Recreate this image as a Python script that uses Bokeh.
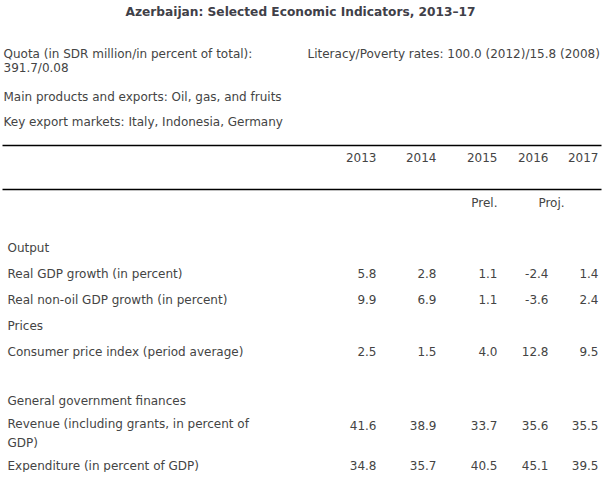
from bokeh.plotting import figure
from bokeh.models import ColumnDataSource, Range1d
from bokeh.core.properties import value
from bokeh.embed import file_html
from bokeh.resources import INLINE

title = "Azerbaijan: Selected Economic Indicators, 2013\u201317"
quota_label = "Quota (in SDR million/in percent of total):"
quota_value = "391.7/0.08"
literacy = "Literacy/Poverty rates: 100.0 (2012)/15.8 (2008)"
products = "Main products and exports: Oil, gas, and fruits"
markets = "Key export markets: Italy, Indonesia, Germany"

years = ["2013", "2014", "2015", "2016", "2017"]
sections = ["Output", "Prices", "General government finances"]
indicators = [
    "Real GDP growth (in percent)",
    "Real non-oil GDP growth (in percent)",
    "Consumer price index (period average)",
    "Revenue (including grants, in percent of\nGDP)",
    "Expenditure (in percent of GDP)",
]
y2013 = [5.8, 9.9, 2.5, 41.6, 34.8]
y2014 = [2.8, 6.9, 1.5, 38.9, 35.7]
y2015 = [1.1, 1.1, 4.0, 33.7, 40.5]
y2016 = [-2.4, -3.6, 12.8, 35.6, 45.1]
y2017 = [1.4, 2.4, 9.5, 35.5, 39.5]
series = [y2013, y2014, y2015, y2016, y2017]

FONT = value("DejaVu Sans")
TXT = "#444444"
FS = "12px"

p = figure(width=604, height=472, output_backend="svg", toolbar_location=None,
           x_range=Range1d(0, 604), y_range=Range1d(472, 0), min_border=0)
p.axis.visible = False
p.grid.visible = False
p.outline_line_color = None

def put(x, y, texts, align="left", bold=False, color=TXT, size=FS, lh=1.2):
    src = ColumnDataSource(dict(x=x, y=y, t=texts))
    p.text(x="x", y="y", text="t", source=src, text_font=FONT,
           text_font_size=size, text_align=align, text_baseline="middle",
           text_color=color, text_font_style="bold" if bold else "normal",
           text_line_height=lh)

# title and header info
put([300], [11], [title], align="center", bold=True, color="#404048", size="12.2px")
put([3, 3, 3, 3], [53, 67, 96, 121], [quota_label, quota_value, products, markets])
put([307], [53], [literacy])

# rules
p.segment(x0=[2, 2], y0=[145, 189], x1=[601, 601], y1=[145, 189],
          line_color="black", line_width=1.5)

# column positions (right edges)
col_right = [376, 436, 497, 548, 598]
put(col_right, [157] * 5, years, align="right")
put([col_right[2]], [202], ["Prel."], align="right")
put([551], [202], ["Proj."], align="center")

# sections
put([7, 7, 7], [247, 325, 400], sections)

# indicator rows
row_y = [273, 299, 351, 425, 465]
label_y = [273, 299, 351, 433, 465]
put([7] * len(indicators), label_y, indicators, lh=1.3)
for ci, vals in enumerate(series):
    put([col_right[ci]] * len(vals), row_y, [f"{v:.1f}" for v in vals], align="right")

open("out.html", "w").write(file_html(p, INLINE))
